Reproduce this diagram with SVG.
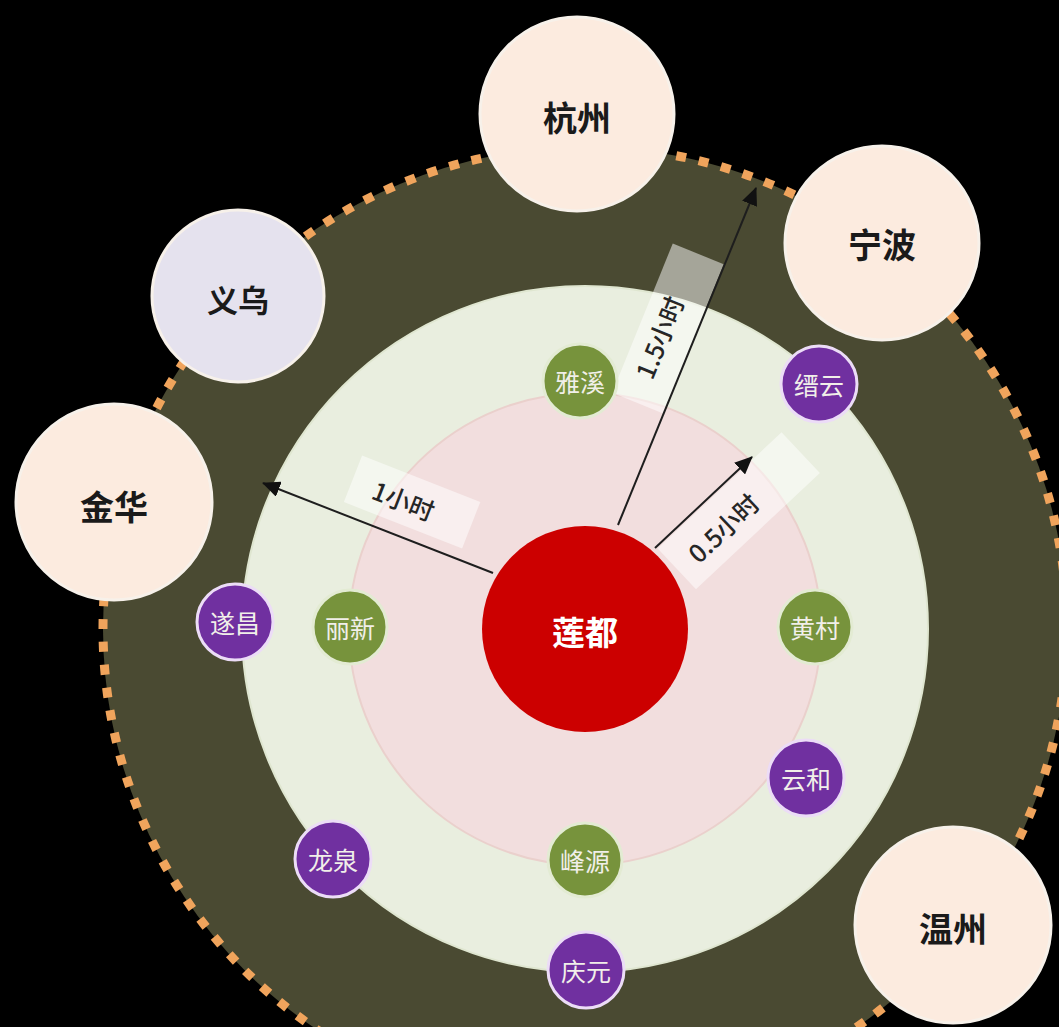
<svg xmlns="http://www.w3.org/2000/svg" width="1059" height="1027" viewBox="0 0 1059 1027">
<style>
text{font-family:"Noto Sans CJK SC","Noto Sans",sans-serif;text-anchor:middle;dominant-baseline:central}
.city{fill:#fcebdf;stroke:#f7f1ea;stroke-width:3}
.cityt{font-size:34px;font-weight:700;fill:#1a1a1a}
.g{fill:#77933c;stroke:#e3ebd3;stroke-width:3}
.p{fill:#7030a0;stroke:#ecdcf7;stroke-width:3}
.nt{font-size:25px;fill:#f1efe9}
.box{fill:#ffffff;fill-opacity:0.5}
.lt{font-size:25px;font-weight:500;fill:#262626}
.conn{stroke:#1e1e1e;stroke-width:2;fill:none;marker-end:url(#ah)}
</style>
<defs>
<marker id="ah" markerUnits="userSpaceOnUse" markerWidth="18" markerHeight="16" refX="17" refY="8" orient="auto"><path d="M0,0 L18,8 L0,16 z" fill="#111"/></marker>
</defs>
<rect width="1059" height="1027" fill="#000"/>
<g id="zone-outer">
<circle cx="585" cy="629" r="482" fill="#4a4a32" stroke="#f0a45c" stroke-width="9" stroke-dasharray="10 12.94"/>
</g>
<g id="hangzhou"><circle class="city" cx="577" cy="114" r="97"/><text class="cityt" x="577" y="116">杭州</text></g>
<g id="ningbo"><circle class="city" cx="882" cy="243" r="97"/><text class="cityt" x="882" y="243">宁波</text></g>
<g id="yiwu"><circle cx="238" cy="296" r="86" fill="#e5e2ee" stroke="#f7f1ea" stroke-width="3"/><text class="cityt" style="font-size:31px" x="238" y="298">义乌</text></g>
<g id="jinhua"><circle class="city" cx="114" cy="502" r="98"/><text class="cityt" x="114" y="505">金华</text></g>
<g id="wenzhou"><circle class="city" cx="953" cy="925" r="98"/><text class="cityt" x="953" y="927">温州</text></g>
<g id="zone-1h"><circle cx="585" cy="629" r="343" fill="#e9eedf" stroke="#dfe6d0" stroke-width="2"/></g>
<g id="zone-05h"><circle cx="585" cy="629" r="236" fill="#f2dede" stroke="#ead0cc" stroke-width="2"/></g>
<g id="label-1h" transform="translate(400,537) rotate(21.4)"><rect class="box" x="-65" y="-62" width="127" height="50"/><text class="lt" x="-10" y="-36">1小时</text></g>
<g id="label-15h" transform="translate(697,330) rotate(-67.9)"><rect class="box" x="-90" y="-55" width="161" height="55"/><text class="lt" x="-21" y="-33">1.5小时</text></g>
<g id="label-05h" transform="translate(700,506) rotate(-43.2)"><rect class="box" x="-60" y="2" width="170" height="56"/><text class="lt" x="2" y="31">0.5小时</text></g>
<g id="liandu"><circle cx="585" cy="629" r="103" fill="#cc0000"/><text x="585" y="631" style="font-size:33px;font-weight:700;fill:#fff">莲都</text></g>
<g id="connectors">
<line class="conn" x1="493" y1="573" x2="263" y2="483"/>
<line class="conn" x1="618" y1="525" x2="756" y2="188"/>
<line class="conn" x1="655" y1="548" x2="752" y2="457"/>
</g>
<g id="yaxi"><circle class="g" cx="580" cy="381" r="37"/><text class="nt" x="580" y="381">雅溪</text></g>
<g id="jinyun"><circle class="p" cx="819" cy="384" r="38"/><text class="nt" x="819" y="384">缙云</text></g>
<g id="suichang"><circle class="p" cx="235" cy="622" r="38"/><text class="nt" x="235" y="622">遂昌</text></g>
<g id="lixin"><circle class="g" cx="350" cy="627" r="37"/><text class="nt" x="350" y="627">丽新</text></g>
<g id="huangcun"><circle class="g" cx="815" cy="627" r="37"/><text class="nt" x="815" y="627">黄村</text></g>
<g id="yunhe"><circle class="p" cx="806" cy="778" r="38"/><text class="nt" x="806" y="778">云和</text></g>
<g id="longquan"><circle class="p" cx="333" cy="859" r="38"/><text class="nt" x="333" y="859">龙泉</text></g>
<g id="fengyuan"><circle class="g" cx="585" cy="860" r="37"/><text class="nt" x="585" y="860">峰源</text></g>
<g id="qingyuan"><circle class="p" cx="586" cy="970" r="38"/><text class="nt" x="586" y="970">庆元</text></g>
</svg>
